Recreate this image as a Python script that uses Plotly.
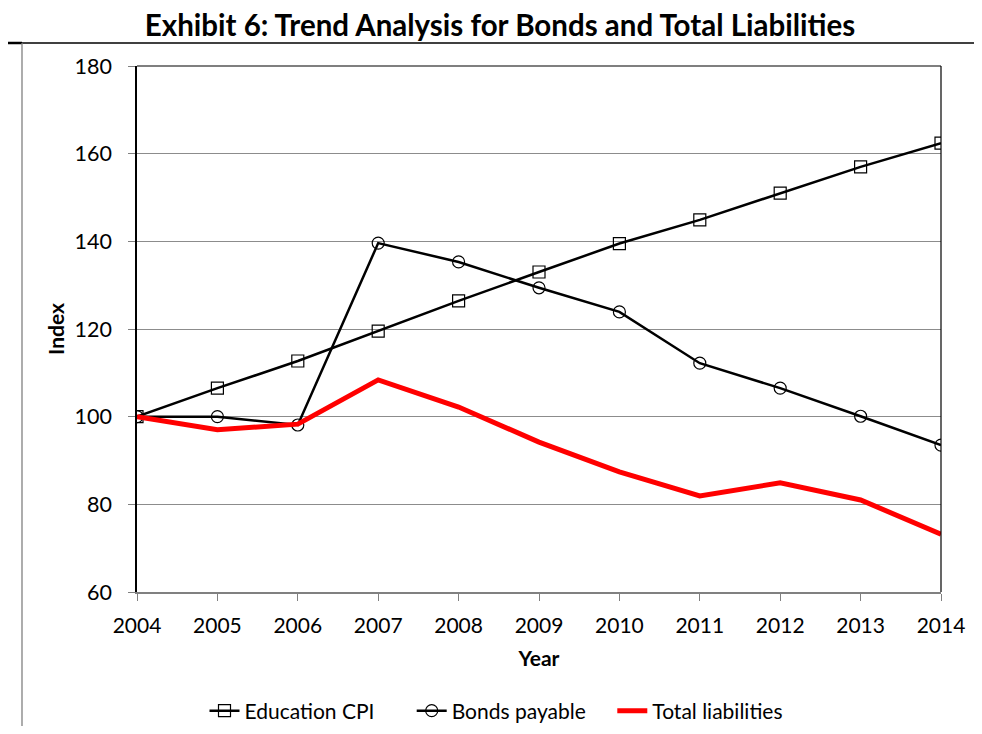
import plotly.graph_objects as go

years = [2004, 2005, 2006, 2007, 2008, 2009, 2010, 2011, 2012, 2013, 2014]
education_cpi = [100, 106.5, 112.7, 119.5, 126.4, 133.0, 139.5, 144.9, 151.0, 157.0, 162.4]
bonds_payable = [100, 100.0, 98.1, 139.6, 135.3, 129.4, 123.9, 112.2, 106.5, 100.1, 93.5]
total_liabilities = [100, 97.0, 98.3, 108.4, 102.2, 94.2, 87.4, 81.9, 84.9, 81.0, 73.2]

FONT = "Lato, Carlito, Calibri, sans-serif"
NB = "\u00a0"

fig = go.Figure()
fig.add_trace(go.Scatter(
    x=years, y=education_cpi, name="Education CPI" + NB * 6, mode="lines+markers",
    line=dict(color="black", width=2.5),
    marker=dict(symbol="square-open", size=12, color="black", line=dict(width=1.2)),
))
fig.add_trace(go.Scatter(
    x=years, y=bonds_payable, name="Bonds payable" + NB * 4, mode="lines+markers",
    line=dict(color="black", width=2.5),
    marker=dict(symbol="circle-open", size=12, color="black", line=dict(width=1.2)),
))
fig.add_trace(go.Scatter(
    x=years, y=total_liabilities, name="Total liabilities", mode="lines",
    line=dict(color="#ff0000", width=5),
))

# page offset of 8px (default body margin); page must fit 982x734
OFF = 8
L, R, T, B = 137 - OFF, 941 - OFF, 66 - OFF, 592 - OFF
W, H = 982 - OFF, 734 - 2 * OFF

def px(x):
    return (x - OFF - L) / (R - L)

def py(y):
    return (B - (y - OFF)) / (B - T)

shapes = [
    dict(type="line", xref="paper", yref="paper", x0=px(8), x1=px(990), y0=py(43), y1=py(43),
         line=dict(color="black", width=1.3)),
    dict(type="line", xref="paper", yref="paper", x0=px(8), x1=px(22), y0=py(43), y1=py(43),
         line=dict(color="black", width=2.5)),
    dict(type="line", xref="paper", yref="paper", x0=px(22), x1=px(22), y0=py(43), y1=py(740),
         line=dict(color="#808080", width=1.3)),
    dict(type="line", xref="paper", yref="paper", x0=px(981), x1=px(981), y0=py(43), y1=py(740),
         line=dict(color="#a0a0a0", width=1.5)),
    dict(type="line", xref="paper", yref="paper", x0=0, x1=1, y0=1, y1=1,
         line=dict(color="black", width=1.2)),
    dict(type="line", xref="paper", yref="paper", x0=1, x1=1, y0=0, y1=1,
         line=dict(color="black", width=1.2)),
]

fig.update_layout(
    width=W, height=H,
    margin=dict(l=L, r=W - R, t=T, b=H - B, autoexpand=False),
    paper_bgcolor="white", plot_bgcolor="white",
    font=dict(family=FONT, size=21, color="black"),
    title=dict(text="<b>Exhibit 6: Trend Analysis for Bonds and Total Liabilities</b>",
               x=(500 - OFF) / W, xanchor="center", y=1 - (26 - OFF) / H, yanchor="middle",
               font=dict(size=29.5, family=FONT)),
    xaxis=dict(
        range=[2004, 2014], tickvals=years, ticktext=[str(y) for y in years],
        showgrid=False, showline=True, linecolor="#808080", linewidth=1.5,
        ticks="outside", ticklen=7, tickcolor="#808080", tickwidth=1,
        tickfont=dict(size=21), zeroline=False, ticklabelstandoff=7,
        title=dict(text="<b>Year</b>", font=dict(size=21), standoff=15),
    ),
    yaxis=dict(
        range=[60, 180], dtick=20, showgrid=True, gridcolor="#8c8c8c", gridwidth=1,
        showline=True, linecolor="black", linewidth=1.5,
        ticks="outside", ticklen=7, tickcolor="#808080", tickwidth=1,
        tickfont=dict(size=21.5), zeroline=False, ticklabelstandoff=12,
        title=dict(text="<b>Index</b>", font=dict(size=21), standoff=4),
    ),
    showlegend=True,
    legend=dict(orientation="h", x=(496 - OFF - L) / (R - L), xanchor="center",
                y=py(711), yanchor="middle",
                font=dict(size=21), itemwidth=30, tracegroupgap=0, bgcolor="rgba(0,0,0,0)"),
    shapes=shapes,
)

fig.write_html("out.html")
